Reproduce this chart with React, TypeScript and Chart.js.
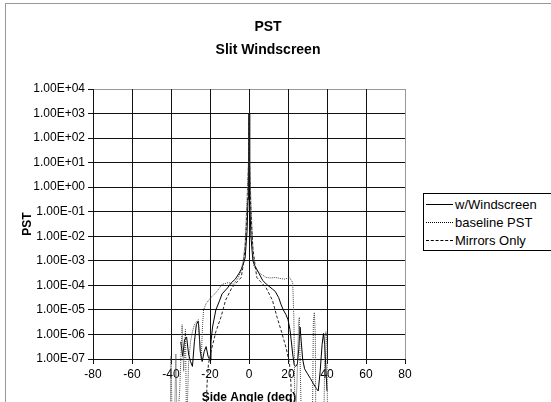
import React, { useEffect, useRef } from 'react';
import { Chart, registerables } from 'chart.js';

Chart.register(...registerables);

const titleLines = ['PST', 'Slit Windscreen'];
const xAxisTitle = 'Side Angle (deg)';
const yAxisTitle = 'PST';
const seriesNames = ['w/Windscreen', 'baseline PST', 'Mirrors Only'];

const xTicks = [-80, -60, -40, -20, 0, 20, 40, 60, 80];
const xTickLabels = ['-80', '-60', '-40', '-20', '0', '20', '40', '60', '80'];
const yTicks = [1e-7, 1e-6, 1e-5, 1e-4, 1e-3, 1e-2, 1e-1, 1e0, 1e1, 1e2, 1e3, 1e4];
const yTickLabels = [
  '1.00E-07', '1.00E-06', '1.00E-05', '1.00E-04', '1.00E-03', '1.00E-02',
  '1.00E-01', '1.00E+00', '1.00E+01', '1.00E+02', '1.00E+03', '1.00E+04',
];

// w/Windscreen (solid)
const windscreenX = [
  -35, -34, -33, -32, -31, -30, -29, -28, -27, -26, -25.5, -25, -24, -23, -22, -21, -20,
  -19.5, -18.7, -17, -15, -13.8, -11, -9, -7, -5, -4, -3, -2, -1, -0.5, -0.2, 0,
  0.2, 0.5, 1, 2, 3, 5, 7, 9, 12, 13.5, 15.2, 16.5, 17.6, 19, 20, 21, 21.6, 22.4,
  23.2, 24, 24.8, 25.5, 26.2, 26.8, 27.5, 28.5, 30, 31.5, 33, 34.5, 35.5, 36.5,
  37.5, 38.2, 38.8, 39.5, 40,
];
const windscreenY = [
  5.0e-7, 1.3e-7, 6.3e-7, 7.9e-7, 1.6e-7, 7.9e-8, 5.0e-8, 5.0e-7, 2.5e-6, 3.5e-6, 1.0e-6, 2.0e-7, 7.9e-8, 2.0e-7, 3.2e-7, 1.3e-7, 8.9e-8,
  5.0e-7, 2.0e-6, 1.0e-5, 2.5e-5, 4.5e-5, 7.9e-5, 1.3e-4, 1.8e-4, 3.2e-4, 4.5e-4, 7.1e-4, 1.3e-3, 1.6e-2, 0.32, 10, 1000,
  10, 0.32, 1.0e-2, 1.0e-3, 6.3e-4, 3.2e-4, 1.6e-4, 1.1e-4, 7.1e-5, 5.6e-5, 3.2e-5, 1.6e-5, 1.0e-5, 6.3e-6, 4.0e-6, 1.6e-6, 6.3e-7, 1.6e-7,
  5.6e-8, 5.0e-8, 6.3e-8, 2.5e-7, 2.0e-6, 5.0e-7, 1.0e-7, 4.0e-8, 2.5e-8, 1.6e-8, 1.0e-8, 6.3e-9, 5.0e-9, 3.2e-8,
  4.0e-7, 1.1e-6, 4.0e-7, 3.2e-8, 5.0e-9,
];

// baseline PST (dotted)
const baselineX = [
  -40.5, -40, -39.3, -38.3, -37.5, -36.8, -35.5, -34.3, -33.5, -32.6, -32, -31, -30, -29, -28, -27, -26,
  -25.3, -24.5, -23.8, -23.3, -22, -19.5, -17, -13.8, -10.5, -8, -5.6, -4, -3, -2, -1.1, -0.5, -0.25, 0,
  0.25, 0.5, 1, 1.6, 2.4, 4, 6.4, 8.8, 11, 13.6, 16, 18.4, 20.8, 22.4, 23, 23.3, 23.6, 24.6, 25.4, 25.8,
  26.3, 27, 32.5, 33, 33.5, 34, 34.3, 38.3, 39, 39.5, 40, 40.3,
];
const baselineY = [
  1e-10, 1.3e-7, 1e-10, 1e-10, 1.6e-7, 1e-10, 6.3e-9, 2.5e-6, 3.2e-8, 1.6e-6, 1e-10, 6.3e-8, 5.0e-7, 1.3e-6, 2.5e-6, 3.2e-6, 4.0e-6,
  5.0e-7, 1.0e-7, 2.5e-6, 1.0e-5, 1.8e-5, 3.2e-5, 5.0e-5, 1.1e-4, 1.3e-4, 1.1e-4, 2.0e-4, 4.0e-4, 1.0e-3, 5.0e-3, 0.25, 3.2, 10, 1000,
  10, 3.2, 0.25, 1.3e-2, 6.3e-4, 4.0e-4, 2.8e-4, 2.1e-4, 2.0e-4, 2.1e-4, 1.9e-4, 1.8e-4, 2.1e-4, 1.3e-4, 5.0e-6, 6.3e-8, 1e-10, 1e-8, 2.5e-6, 5.0e-6,
  3.2e-8, 1e-10, 1e-10, 3.2e-6, 7.9e-6, 1.0e-6, 1e-10, 1e-10, 1.0e-6, 1.3e-6, 3.2e-7, 1e-10,
];

// Mirrors Only (dashed)
const mirrorsX = [
  -22.5, -21.5, -20.8, -19.2, -17, -14.4, -12, -8.8, -6, -4, -3, -2, -1.3, -0.6, -0.2, 0,
  0.2, 0.6, 1.3, 2, 3, 4, 6, 8.8, 12, 14.4, 16.8, 19.2, 20.8, 21.5, 22.3,
];
const mirrorsY = [
  1e-10, 1e-8, 6.3e-8, 2.5e-7, 1.3e-6, 5.0e-6, 2.5e-5, 7.9e-5, 1.4e-4, 2.1e-4, 6.3e-4, 3.2e-3, 3.2e-2, 0.5, 20, 1000,
  20, 0.5, 3.2e-2, 3.2e-3, 7.9e-4, 2.1e-4, 1.4e-4, 7.9e-5, 2.5e-5, 5.0e-6, 1.2e-6, 2.5e-7, 6.3e-8, 1e-8, 1e-10,
];

const FONT = "'Liberation Sans', Arial, Helvetica, sans-serif";
const INK = '#111';

const toPoints = (xs: number[], ys: number[]) => xs.map((x, i) => ({ x, y: ys[i] }));

const plotBorderPlugin = {
  id: 'plotBorder',
  beforeDatasetsDraw(chart: any) {
    const { ctx, chartArea } = chart;
    const { left, right, top, bottom } = chartArea;
    ctx.save();
    ctx.strokeStyle = '#333';
    ctx.lineWidth = 1;
    ctx.setLineDash([1, 1]);
    ctx.beginPath();
    ctx.moveTo(Math.round(left) + 0.5, Math.round(top) + 0.5);
    ctx.lineTo(Math.round(right) + 0.5, Math.round(top) + 0.5);
    ctx.lineTo(Math.round(right) + 0.5, Math.round(bottom) + 0.5);
    ctx.stroke();
    ctx.restore();
  },
};

const legendStyles = ['solid', 'dotted', 'dashed'];

export default function App() {
  const canvasRef = useRef<HTMLCanvasElement | null>(null);

  useEffect(() => {
    const canvas = canvasRef.current;
    if (!canvas) return;
    const chart = new Chart(canvas, {
      type: 'line',
      data: {
        datasets: [
          {
            label: seriesNames[2],
            data: toPoints(mirrorsX, mirrorsY),
            borderColor: '#222',
            borderWidth: 1,
            borderDash: [3, 2],
            pointRadius: 0,
            tension: 0,
            clip: false as any,
          },
          {
            label: seriesNames[1],
            data: toPoints(baselineX, baselineY),
            borderColor: '#444',
            borderWidth: 1,
            borderDash: [1, 1],
            pointRadius: 0,
            tension: 0,
            clip: false as any,
          },
          {
            label: seriesNames[0],
            data: toPoints(windscreenX, windscreenY),
            borderColor: '#000',
            borderWidth: 1,
            pointRadius: 0,
            tension: 0,
            clip: false as any,
          },
        ],
      },
      options: {
        responsive: false,
        animation: false,
        events: [],
        layout: { padding: { left: 0, top: 0, bottom: 0, right: 15 } },
        plugins: {
          legend: { display: false },
          tooltip: { enabled: false },
          title: {
            display: true,
            text: titleLines,
            color: '#000',
            font: { family: FONT, size: 14, weight: 'bold', lineHeight: 1.65 },
            padding: { top: 15.5, bottom: 27.3 },
          },
        },
        scales: {
          x: {
            type: 'linear',
            min: -80,
            max: 80,
            afterBuildTicks: (s: any) => {
              s.ticks = xTicks.map((v) => ({ value: v }));
            },
            afterFit: (s: any) => {
              s.height = 61;
            },
            ticks: {
              autoSkip: false,
              maxRotation: 0,
              color: '#000',
              padding: 3,
              font: { family: FONT, size: 12 },
              callback: (v: any) => xTickLabels[xTicks.indexOf(Number(v))] ?? '',
            },
            grid: {
              color: (c: any) => (c.tick && c.tick.value === 80 ? 'rgba(0,0,0,0)' : INK),
              tickColor: INK,
              tickLength: 5,
              lineWidth: 1,
            },
            border: { color: INK, width: 1 },
            title: {
              display: true,
              text: xAxisTitle,
              color: '#000',
              font: { family: FONT, size: 12, weight: 'bold' },
              padding: { top: 0, bottom: 15 },
            },
          },
          y: {
            type: 'logarithmic',
            min: 1e-7,
            max: 1e4,
            afterBuildTicks: (s: any) => {
              s.ticks = yTicks.map((v) => ({ value: v }));
            },
            afterFit: (s: any) => {
              s.width = 93;
            },
            ticks: {
              autoSkip: false,
              color: '#000',
              padding: 3,
              font: { family: FONT, size: 12 },
              callback: (v: any) => {
                const i = yTicks.findIndex((t) => Math.abs(Math.log10(t) - Math.log10(Number(v))) < 1e-6);
                return i >= 0 ? yTickLabels[i] : '';
              },
            },
            grid: {
              color: (c: any) => (c.tick && Math.abs(c.tick.value - 1e4) < 1 ? 'rgba(0,0,0,0)' : INK),
              tickColor: INK,
              tickLength: 5,
              lineWidth: 1,
            },
            border: { color: INK, width: 1 },
            title: {
              display: true,
              text: yAxisTitle,
              color: '#000',
              font: { family: FONT, size: 12, weight: 'bold' },
              padding: { top: 20, bottom: 0 },
            },
          },
          yRight: {
            type: 'linear',
            position: 'right',
            display: true,
            grid: { display: false },
            border: { display: false },
            ticks: { display: false },
            afterFit: (s: any) => {
              s.width = 131;
            },
          },
        },
      },
      plugins: [plotBorderPlugin],
    } as any);
    return () => chart.destroy();
  }, []);

  return (
    <div
      style={{
        position: 'fixed',
        left: 0,
        top: 0,
        width: 551,
        height: 402,
        overflow: 'hidden',
        background: '#fff',
      }}
    >
      <canvas
        ref={canvasRef}
        width={551}
        height={420}
        style={{ position: 'absolute', left: 0, top: 0, width: 551, height: 420 }}
      />
      <div
        style={{
          position: 'absolute',
          left: 5,
          top: 3,
          width: 700,
          height: 600,
          borderLeft: '1px solid #999',
          borderTop: '1px solid #999',
          pointerEvents: 'none',
        }}
      />
      <div
        style={{
          position: 'absolute',
          left: 423,
          top: 193,
          width: 140,
          height: 56,
          border: '1px solid #000',
          background: '#fff',
          fontFamily: FONT,
          fontSize: 13,
          color: '#000',
        }}
      >
        {seriesNames.map((name, i) => (
          <div
            key={name}
            style={{
              position: 'absolute',
              left: 2,
              top: 2 + i * 18,
              height: 17,
              display: 'flex',
              alignItems: 'center',
              whiteSpace: 'nowrap',
            }}
          >
            <span
              style={{
                display: 'inline-block',
                width: 27,
                height: 0,
                borderTop: `1px ${legendStyles[i]} #000`,
                marginRight: 2,
              }}
            />
            <span>{name}</span>
          </div>
        ))}
      </div>
    </div>
  );
}
